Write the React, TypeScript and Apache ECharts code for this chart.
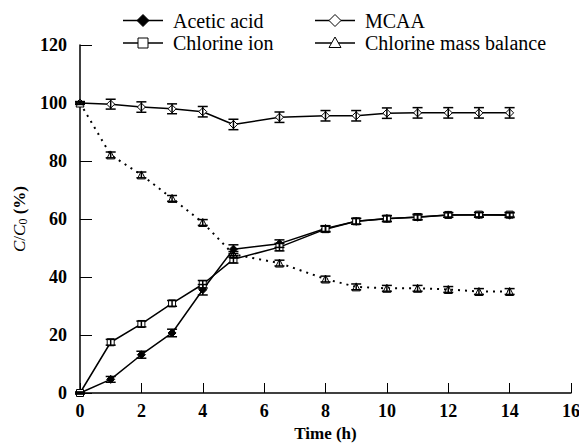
import React, { useEffect, useRef } from "react";
import * as echarts from "echarts";

const seriesNames = ["Acetic acid", "Chlorine ion", "MCAA", "Chlorine mass balance"];
const times = [0, 1, 2, 3, 4, 5, 6.5, 8, 9, 10, 11, 12, 13, 14];
const aceticAcid = [0, 4.7, 13.2, 20.7, 35.6, 49.6, 51.5, 56.7, 59.2, 60.2, 60.6, 61.4, 61.4, 61.3];
const chlorineIon = [0, 17.5, 23.8, 30.9, 37.5, 46.1, 50.3, 56.5, 59.2, 60.1, 60.7, 61.4, 61.5, 61.5];
const mcaa = [100, 99.6, 98.6, 98.0, 97.0, 92.6, 95.1, 95.6, 95.6, 96.5, 96.6, 96.6, 96.6, 96.6];
const chlorineBalance = [100, 82.1, 75.2, 67.1, 58.8, 47.8, 44.8, 39.3, 36.6, 36.1, 36.1, 35.7, 35.0, 35.0];
const aceticErr = [0.3, 1.0, 1.2, 1.3, 1.8, 1.5, 1.3, 1.0, 1.0, 1.0, 0.8, 0.8, 0.8, 0.8];
const ionErr = [0.3, 1.0, 1.0, 1.0, 1.3, 1.3, 1.3, 1.0, 1.0, 1.0, 1.0, 0.8, 0.8, 0.8];
const mcaaErr = [0.5, 1.7, 1.8, 1.7, 1.8, 1.8, 1.8, 1.8, 1.8, 1.8, 1.8, 1.8, 1.8, 1.8];
const balanceErr = [0.3, 1.0, 1.0, 1.0, 1.0, 1.0, 1.0, 1.0, 1.0, 1.0, 1.0, 1.0, 1.0, 1.0];
const yTicks = [0, 20, 40, 60, 80, 100, 120];
const xTicks = [0, 2, 4, 6, 8, 10, 12, 14, 16];

const FONT = "Liberation Serif";

function pairs(vals: number[]) {
  return times.map((t, i) => [t, vals[i]]);
}
function errData(vals: number[], errs: number[]) {
  return times.map((t, i) => [t, vals[i] - errs[i], vals[i] + errs[i]]);
}

function errSeries(vals: number[], errs: number[]) {
  return {
    type: "custom",
    silent: true,
    z: 5,
    data: errData(vals, errs),
    renderItem: (params: any, api: any) => {
      const x = api.value(0);
      const lo = api.coord([x, api.value(1)]);
      const hi = api.coord([x, api.value(2)]);
      const hw = 5;
      const st = { stroke: "#000", lineWidth: 1.5 };
      return {
        type: "group",
        children: [
          { type: "line", shape: { x1: lo[0], y1: lo[1], x2: hi[0], y2: hi[1] }, style: st },
          { type: "line", shape: { x1: lo[0] - hw, y1: lo[1], x2: lo[0] + hw, y2: lo[1] }, style: st },
          { type: "line", shape: { x1: hi[0] - hw, y1: hi[1], x2: hi[0] + hw, y2: hi[1] }, style: st },
        ],
      };
    },
  };
}

function markerShape(kind: string, cx: number, cy: number): any {
  const filled = kind === "filledDiamond";
  const style = { fill: filled ? "#000" : "#fff", stroke: "#000", lineWidth: 1 };
  if (kind === "rect") {
    return { type: "rect", shape: { x: cx - 5, y: cy - 5, width: 10, height: 10 }, style, z: 11 };
  }
  if (kind === "triangle") {
    return {
      type: "polygon",
      shape: { points: [[cx, cy - 6], [cx + 6, cy + 4.5], [cx - 6, cy + 4.5]] },
      style,
      z: 11,
    };
  }
  return {
    type: "polygon",
    shape: { points: [[cx, cy - 6], [cx + 6, cy], [cx, cy + 6], [cx - 6, cy]] },
    style,
    z: 11,
  };
}

function legendItem(name: string, kind: string, x: number, y: number): any[] {
  return [
    { type: "line", shape: { x1: x, y1: y, x2: x + 40, y2: y }, style: { stroke: "#000", lineWidth: 1.5 }, z: 10 },
    markerShape(kind, x + 20, y),
    {
      type: "text",
      x: x + 50,
      y: y,
      z: 10,
      style: {
        text: name,
        fill: "#000",
        fontFamily: FONT,
        fontSize: 20,
        verticalAlign: "middle",
        align: "left",
      },
    },
  ];
}

export default function App() {
  const ref = useRef<HTMLDivElement>(null);
  useEffect(() => {
    if (!ref.current) return;
    const chart = echarts.init(ref.current, undefined, { renderer: "svg" });
    chart.setOption({
      animation: false,
      backgroundColor: "#fff",
      textStyle: { fontFamily: FONT, color: "#000" },
      grid: { left: 80, right: 8, top: 45, bottom: 53, containLabel: false, outerBoundsMode: "none" },
      graphic: [
        ...legendItem(seriesNames[0], "filledDiamond", 123, 20.5),
        ...legendItem(seriesNames[1], "rect", 123, 43),
        ...legendItem(seriesNames[2], "diamond", 315, 20.5),
        ...legendItem(seriesNames[3], "triangle", 315, 43),
      ],
      xAxis: {
        type: "value",
        min: 0,
        max: 16,
        interval: 2,
        name: "Time (h)",
        nameLocation: "middle",
        nameGap: 31,
        nameTextStyle: { color: "#000", fontFamily: FONT, fontSize: 17, fontWeight: "bold" },
        axisLine: { lineStyle: { color: "#000", width: 1.5 } },
        axisTick: { inside: true, length: 10, lineStyle: { color: "#000", width: 1 } },
        axisLabel: {
          color: "#000",
          fontFamily: FONT,
          fontSize: 18,
          fontWeight: "bold",
          margin: 9,
          formatter: (v: number) => (xTicks.includes(v) ? String(v) : ""),
        },
        splitLine: { show: false },
      },
      yAxis: {
        type: "value",
        min: 0,
        max: 120,
        interval: 20,
        name: "{i|C}/{i|C}{sub|0}{b| (%)}",
        nameLocation: "middle",
        nameRotate: 90,
        nameGap: 48,
        nameTextStyle: {
          color: "#000",
          fontFamily: FONT,
          fontSize: 17,
          rich: {
            i: { fontStyle: "italic", fontFamily: FONT, fontSize: 17, color: "#000" },
            b: { fontWeight: "bold", fontFamily: FONT, fontSize: 17, color: "#000" },
            sub: { fontFamily: FONT, fontSize: 12, color: "#000", verticalAlign: "bottom", padding: [7, 0, 0, 0] },
          },
        },
        axisLine: { show: true, lineStyle: { color: "#000", width: 1.5 } },
        axisTick: { show: true, inside: true, length: 12, lineStyle: { color: "#000", width: 1 } },
        axisLabel: {
          color: "#000",
          fontFamily: FONT,
          fontSize: 18,
          fontWeight: "bold",
          margin: 13,
          formatter: (v: number) => (yTicks.includes(v) ? String(v) : ""),
        },
        splitLine: { show: false },
      },
      series: [
        {
          name: seriesNames[0],
          type: "line",
          data: pairs(aceticAcid),
          symbol: "diamond",
          symbolSize: 8,
          itemStyle: { color: "#000", borderColor: "#000" },
          lineStyle: { color: "#000", width: 1.5 },
          z: 3,
        },
        {
          name: seriesNames[1],
          type: "line",
          data: pairs(chlorineIon),
          symbol: "rect",
          symbolSize: 7,
          showAllSymbol: true,
          itemStyle: { color: "#fff", borderColor: "#000", borderWidth: 1 },
          lineStyle: { color: "#000", width: 1.5 },
          z: 3,
        },
        {
          name: seriesNames[2],
          type: "line",
          data: pairs(mcaa),
          symbol: "diamond",
          symbolSize: 8,
          itemStyle: { color: "#fff", borderColor: "#000", borderWidth: 1 },
          lineStyle: { color: "#000", width: 1.5 },
          z: 3,
        },
        {
          name: seriesNames[3],
          type: "line",
          data: pairs(chlorineBalance),
          symbol: "triangle",
          symbolSize: 8,
          itemStyle: { color: "#fff", borderColor: "#000", borderWidth: 1 },
          lineStyle: { color: "#000", width: 2, type: [2, 5] },
          z: 3,
        },
        errSeries(aceticAcid, aceticErr),
        errSeries(chlorineIon, ionErr),
        errSeries(mcaa, mcaaErr),
        errSeries(chlorineBalance, balanceErr),
      ],
    });
    return () => chart.dispose();
  }, []);
  return <div ref={ref} style={{ width: 579, height: 446, position: "absolute", left: 0, top: 0 }} />;
}
